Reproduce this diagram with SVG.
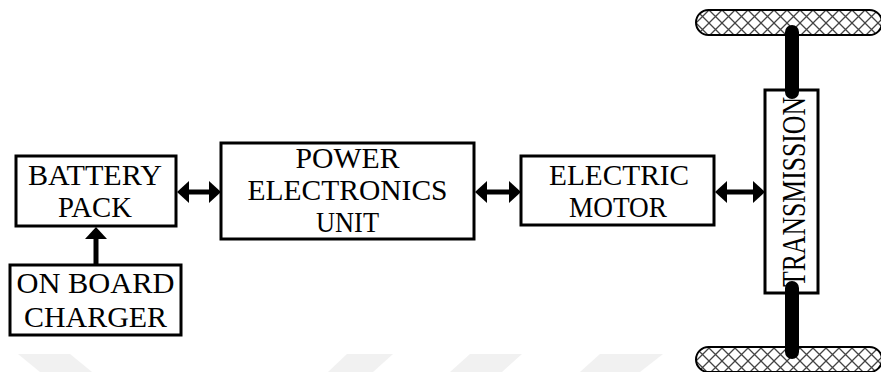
<svg xmlns="http://www.w3.org/2000/svg" width="881" height="372" viewBox="0 0 881 372">
  <style>
    .box { fill: #ffffff; stroke: #000000; stroke-width: 3; }
    text { font-family: 'Liberation Serif', serif; font-size: 29px; fill: #000000; text-anchor: middle; }
    .arrow { stroke: #000000; stroke-width: 5; fill: none; }
    .axle { stroke: #000000; stroke-width: 14; stroke-linecap: round; }
    .wheel { fill: url(#hatch); stroke: #000000; stroke-width: 2; }
    .wm { fill: #f1f1f1; }
  </style>
  <defs>
    <pattern id="hatch" patternUnits="userSpaceOnUse" width="13" height="13" x="696" y="10">
      <rect width="13" height="13" fill="#ffffff"/>
      <path d="M0,0 L13,13 M13,0 L0,13" stroke="#444444" stroke-width="1.3"/>
    </pattern>
    <marker id="head" markerUnits="userSpaceOnUse" viewBox="0 0 12 22" markerWidth="12" markerHeight="22" refX="4" refY="11" orient="auto-start-reverse">
      <path d="M0,0 L12,11 L0,22 Z" fill="#000000"/>
    </marker>
  </defs>

  <g id="watermark">
    <polygon class="wm" points="18,354 70,354 92,372 40,372"/>
    <polygon class="wm" points="347,354 393,354 373,372 328,372"/>
    <polygon class="wm" points="470,354 522,354 502,372 450,372"/>
    <polygon class="wm" points="600,354 663,354 640,372 580,372"/>
  </g>

  <g id="wheel-top">
    <rect class="wheel" x="696" y="10" width="186" height="25" rx="12.5"/>
  </g>
  <g id="wheel-bottom">
    <rect class="wheel" x="696" y="347" width="186" height="25" rx="12.5"/>
  </g>

  <g id="battery-pack">
    <rect class="box" x="16" y="156" width="160" height="70"/>
    <text x="95" y="185" textLength="134" lengthAdjust="spacingAndGlyphs">BATTERY</text>
    <text x="95" y="217" textLength="74" lengthAdjust="spacingAndGlyphs">PACK</text>
  </g>

  <g id="on-board-charger">
    <rect class="box" x="10" y="265" width="171" height="70"/>
    <text x="95.5" y="293" textLength="158" lengthAdjust="spacingAndGlyphs">ON BOARD</text>
    <text x="95.5" y="327" textLength="143" lengthAdjust="spacingAndGlyphs">CHARGER</text>
  </g>

  <g id="power-electronics-unit">
    <rect class="box" x="221" y="143" width="253" height="96"/>
    <text x="347.5" y="168" textLength="104" lengthAdjust="spacingAndGlyphs">POWER</text>
    <text x="347.5" y="200" textLength="200" lengthAdjust="spacingAndGlyphs">ELECTRONICS</text>
    <text x="347.5" y="232" textLength="63" lengthAdjust="spacingAndGlyphs">UNIT</text>
  </g>

  <g id="electric-motor">
    <rect class="box" x="521" y="156" width="193" height="69"/>
    <text x="619" y="185" textLength="140" lengthAdjust="spacingAndGlyphs">ELECTRIC</text>
    <text x="618" y="217" textLength="98" lengthAdjust="spacingAndGlyphs">MOTOR</text>
  </g>

  <g id="transmission">
    <rect class="box" x="765" y="90" width="53" height="203"/>
    <text transform="translate(805,192) rotate(-90)" x="0" y="0" style="font-size:34px" textLength="190" lengthAdjust="spacingAndGlyphs">TRANSMISSION</text>
  </g>

  <g id="connectors">
    <line class="arrow" x1="185" y1="192" x2="213" y2="192" marker-start="url(#head)" marker-end="url(#head)"/>
    <line class="arrow" x1="483" y1="192" x2="513" y2="192" marker-start="url(#head)" marker-end="url(#head)"/>
    <line class="arrow" x1="723" y1="192" x2="757" y2="192" marker-start="url(#head)" marker-end="url(#head)"/>
    <line class="arrow" x1="96" y1="265" x2="96" y2="235" marker-end="url(#head)"/>
    <line class="axle" x1="792" y1="32" x2="792" y2="92"/>
    <line class="axle" x1="792" y1="288" x2="792" y2="352"/>
  </g>
</svg>
